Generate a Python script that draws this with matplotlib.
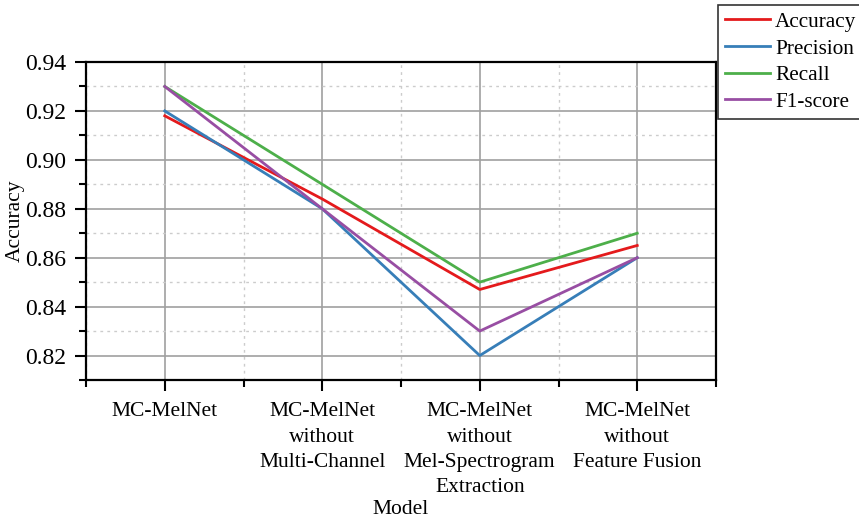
import matplotlib
matplotlib.use("Agg")
import matplotlib.pyplot as plt
from matplotlib.ticker import FixedLocator

plt.rcParams['font.family'] = ['Liberation Serif', 'DejaVu Serif']

categories = ["MC-MelNet", "MC-MelNet\nwithout\nMulti-Channel",
              "MC-MelNet\nwithout\nMel-Spectrogram\nExtraction",
              "MC-MelNet\nwithout\nFeature Fusion"]
accuracy = [0.918, 0.884, 0.847, 0.865]
precision = [0.920, 0.880, 0.820, 0.860]
recall = [0.930, 0.890, 0.850, 0.870]
f1 = [0.930, 0.880, 0.830, 0.860]
series_names = ["Accuracy", "Precision", "Recall", "F1-score"]
colors = ["#e41a1c", "#377eb8", "#4daf4a", "#984ea3"]
yticks = [0.82, 0.84, 0.86, 0.88, 0.90, 0.92, 0.94]
yminor = [0.81, 0.83, 0.85, 0.87, 0.89, 0.91, 0.93]

fig = plt.figure(figsize=(8.59, 5.19), dpi=100)
ax = fig.add_axes([86/859, 1-380/519, (716-86)/859, (380-62)/519])

x = list(range(len(categories)))
for vals, name, c in zip([accuracy, precision, recall, f1], series_names, colors):
    ax.plot(x, vals, color=c, lw=2, label=name, zorder=3)

ax.set_xlim(-0.5, 3.5)
ax.set_ylim(0.81, 0.94)
ax.set_xticks(x)
ax.set_xticklabels(categories, fontsize=15.5, linespacing=1.45)
ax.xaxis.set_minor_locator(FixedLocator([-0.5, 0.5, 1.5, 2.5, 3.5]))
ax.yaxis.set_major_locator(FixedLocator(yticks))
ax.yaxis.set_minor_locator(FixedLocator(yminor))
ax.set_yticklabels([f"{v:.2f}" for v in yticks], fontsize=17)

ax.grid(True, which='major', color='#a0a0a0', lw=1.2, ls='-')
ax.grid(True, which='minor', color='#cccccc', lw=1.0, ls=(0, (2, 3)))
ax.set_axisbelow(True)

ax.tick_params(axis='both', which='major', direction='out', length=8, width=1.5, pad=6)
ax.tick_params(axis='x', which='major', pad=8)
ax.tick_params(axis='both', which='minor', direction='out', length=5, width=1.5)
for s in ax.spines.values():
    s.set_linewidth(1.6)

ax.set_ylabel("Accuracy", fontsize=15.5)
ax.yaxis.set_label_coords((25-86)/630, 0.5)
ax.set_xlabel("Model", fontsize=15.5)
ax.xaxis.set_label_coords(0.5, (380-500)/318)

leg = fig.legend(loc='upper left', bbox_to_anchor=(718/859, 1-5/519), fontsize=15.3,
                 frameon=True, fancybox=False, handlelength=2.1, handletextpad=0.25,
                 borderpad=0.33, labelspacing=0.32, borderaxespad=0)
leg.get_frame().set_edgecolor('black')
leg.get_frame().set_linewidth(1.2)

fig.savefig("out.png", dpi=100)
